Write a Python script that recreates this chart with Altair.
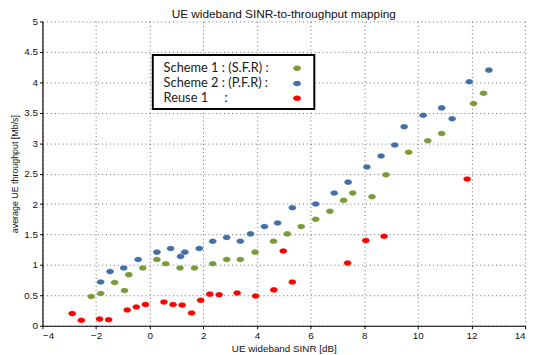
import altair as alt
import pandas as pd

# ---- data ----
s1_x = [-2.18, -1.83, -1.31, -0.94, -0.78, -0.26, 0.27, 0.60, 1.13, 1.67, 2.35, 2.87, 3.38, 3.93, 4.62,
        5.13, 5.65, 6.19, 6.72, 7.23, 7.57, 8.29, 8.81, 9.66, 10.37, 10.89, 12.08, 12.45]
s1_y = [0.48, 0.53, 0.71, 0.58, 0.84, 0.95, 1.09, 1.02, 0.95, 0.95, 1.02, 1.09, 1.09, 1.21, 1.39,
        1.51, 1.63, 1.75, 1.88, 2.06, 2.18, 2.12, 2.48, 2.85, 3.04, 3.16, 3.65, 3.82]

s2_x = [-1.83, -1.48, -0.97, -0.43, 0.27, 0.78, 1.15, 1.31, 1.85, 2.35, 2.87, 3.38, 3.76, 4.28, 4.77,
        5.32, 6.19, 6.88, 7.40, 8.10, 8.63, 9.14, 9.49, 10.20, 10.89, 11.28, 11.92, 12.65]
s2_y = [0.72, 0.89, 0.95, 1.09, 1.21, 1.27, 1.14, 1.21, 1.27, 1.39, 1.45, 1.39, 1.51, 1.63, 1.69,
        1.94, 2.00, 2.18, 2.36, 2.61, 2.79, 2.97, 3.27, 3.46, 3.58, 3.40, 4.01, 4.20]

r_x = [-2.89, -2.55, -1.87, -1.53, -0.84, -0.50, -0.16, 0.53, 0.87, 1.21, 1.56, 1.90, 2.24, 2.59,
       3.26, 3.95, 4.63, 4.98, 5.32, 7.38, 8.06, 8.74, 11.84]
r_y = [0.20, 0.09, 0.11, 0.10, 0.26, 0.31, 0.35, 0.39, 0.35, 0.34, 0.21, 0.42, 0.52, 0.51,
       0.54, 0.49, 0.59, 1.23, 0.72, 1.03, 1.40, 1.47, 2.41]

series_names = ["Scheme 1 : (S.F.R) :", "Scheme 2 : (P.F.R) :", "Reuse 1\u00a0\u00a0\u00a0\u00a0\u00a0:"]
series_colors = ["#7A9A3A", "#416FA6", "#FF0000"]
x_ticks = [-4, -2, 0, 2, 4, 6, 8, 10, 12, 14]
y_ticks = [0, 0.5, 1, 1.5, 2, 2.5, 3, 3.5, 4, 4.5, 5]

rows = []
for name, xs, ys in zip(series_names, [s1_x, s2_x, r_x], [s1_y, s2_y, r_y]):
    for a, b in zip(xs, ys):
        rows.append({"series": name, "sinr": a, "thr": b})
df = pd.DataFrame(rows)

ELLIPSE = "M-1,0A1,0.72 0 1,0 1,0A1,0.72 0 1,0 -1,0Z"
FONT = "Liberation Sans"
W, H = 490, 309

points = alt.Chart(df).mark_point(filled=True, opacity=1, shape=ELLIPSE, size=62, stroke="white", strokeWidth=0.4, strokeOpacity=0.6).encode(
    x=alt.X("sinr:Q", scale=alt.Scale(domain=[-4, 14], nice=False, zero=False),
            axis=alt.Axis(values=x_ticks, title="UE wideband SINR [dB]", format="~g")),
    y=alt.Y("thr:Q", scale=alt.Scale(domain=[0, 5], nice=False),
            axis=alt.Axis(values=y_ticks, title="average UE throughput [Mb/s]", format="~g",
                          titleFontSize=9)),
    color=alt.Color("series:N", scale=alt.Scale(domain=series_names, range=series_colors), legend=None),
)

# custom legend box (symbols on the right, as in the reference)
box = alt.Chart(pd.DataFrame({"a": [0]})).mark_rect(fill="white", stroke="black", strokeWidth=2).encode(
    x=alt.value(112), x2=alt.value(276), y=alt.value(34), y2=alt.value(89))

leg_layers = [box]
text_y = [47, 62.5, 77.5]
for name, col, ty in zip(series_names, series_colors, text_y):
    d = pd.DataFrame({"label": [name]})
    leg_layers.append(alt.Chart(d).mark_text(align="left", baseline="middle", font="Lato", fontSize=13,
                                             color="#1a1a1a").encode(
        x=alt.value(123), y=alt.value(ty), text="label:N"))
    leg_layers.append(alt.Chart(d).mark_point(filled=True, opacity=1, shape=ELLIPSE, size=62, color=col).encode(
        x=alt.value(258.5), y=alt.value(ty + 0.5)))

chart = alt.layer(points, *leg_layers).properties(
    width=W, height=H,
    title=alt.TitleParams("UE wideband SINR-to-throughput mapping", font=FONT, fontSize=12,
                          fontWeight="normal", color="#111", offset=-4, anchor="middle"),
    autosize=alt.AutoSizeParams(type="none"),
    padding={"left": 35, "top": 11, "right": 5, "bottom": 27},
).configure_view(stroke=None).configure_axis(
    labelFont=FONT, labelFontSize=10, labelColor="#111", titleFont=FONT, titleFontSize=10,
    titleFontWeight="normal", titleColor="#111",
    domainColor="black", domainWidth=1.2, tickColor="black", tickSize=3,
    grid=True, gridColor="#444", gridDash=[1, 3], gridOpacity=0.8, gridWidth=1,
    labelPadding=2,
).configure_axisY(titlePadding=4).configure_axisX(titlePadding=3)

chart.save("out.html", embed_options={"renderer": "svg", "actions": False})
